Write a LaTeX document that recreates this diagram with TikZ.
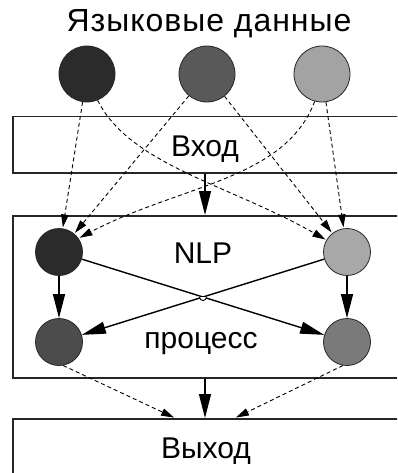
\documentclass[tikz,border=0pt]{standalone}
\usepackage{fontspec}
\setmainfont{Liberation Sans}
\usetikzlibrary{arrows.meta}
\begin{document}
\begin{tikzpicture}[x=1pt,y=-1pt,
  box/.style={draw=black!85,line width=1.5pt,inner sep=0pt,anchor=north west},
  bigdot/.style={circle,draw=black!85,line width=0.8pt,minimum size=56pt,inner sep=0pt},
  smalldot/.style={circle,draw=black!85,line width=0.8pt,minimum size=47pt,inner sep=0pt},
  lbl/.style={anchor=base,inner sep=0pt,font=\fontsize{30}{36}\selectfont},
  dasharrow/.style={dashed,dash pattern=on 4pt off 3pt,line width=0.9pt,-{Triangle[length=13pt,width=7.5pt]},shorten >=1pt},
  solidarrow/.style={line width=1.4pt,-{Triangle[length=24pt,width=12pt]}}
]
\useasboundingbox (0,0) rectangle (397,473);
\clip (0,0) rectangle (397,473);
\fill[white] (0,0) rectangle (397,473);

% boxes
\node[box,minimum width=420pt,minimum height=56pt] (in) at (12,116) {};
\node[box,minimum width=420pt,minimum height=162pt] (nlp) at (12,215) {};
\node[box,minimum width=420pt,minimum height=60pt] (out) at (12,418) {};
\coordinate (axis) at (205,0);

% labels
\node[lbl,font=\fontsize{32}{38}\selectfont\addfontfeature{LetterSpace=3}] (title) at (209,32) {Языковые данные};
\node[lbl] (tin) at (205,157) {Вход};
\node[lbl] (tnlp) at (203,263) {NLP};
\node[lbl] (tproc) at (201,348) {процесс};
\node[lbl] (tout) at (206,458) {Выход};

% top circles
\node[bigdot,fill=black!83] (a) at (87,74) {};
\node[bigdot,fill=black!65] (b) at (207,74) {};
\node[bigdot,fill=black!36] (c) at (322,74) {};

% NLP circles
\node[smalldot,fill=black!83] (tl) at (59,252) {};
\node[smalldot,fill=black!34] (tr) at (347,252) {};
\node[smalldot,fill=black!70] (bl) at (59,342) {};
\node[smalldot,fill=black!52] (br) at (347,342) {};

% dashed inputs
\draw[dasharrow] (a) -- (tl);
\draw[dasharrow] (b) -- (tl);
\draw[dasharrow] (b) -- (tr);
\draw[dasharrow] (c) -- (tr);
\draw[dasharrow] (a.-68) .. controls (130,165) and (230,185) .. (tr.150);
\draw[dasharrow] (c.-105) .. controls (285,180) and (180,185) .. (tl.35);

% box arrows
\draw[solidarrow] (in.south -| axis) -- (nlp.north -| axis);
\draw[solidarrow] (nlp.south -| axis) -- (out.north -| axis);

% internal arrows
\draw[solidarrow] (tl) -- (bl);
\draw[solidarrow] (tr) -- (br);
\draw[solidarrow] (tl) -- (br);
\draw[solidarrow] (tr) -- (bl);
\coordinate (X) at (intersection of tl--br and tr--bl);
\draw[line width=0.9pt,fill=white] ([xshift=-3.5pt]X) arc[start angle=180,end angle=360,radius=3.5pt];

% outputs
\coordinate (o1) at (175,0);
\coordinate (o2) at (235,0);
\draw[dasharrow] (bl.-80) -- (out.north -| o1);
\draw[dasharrow] (br.-100) -- (out.north -| o2);
\end{tikzpicture}
\end{document}
